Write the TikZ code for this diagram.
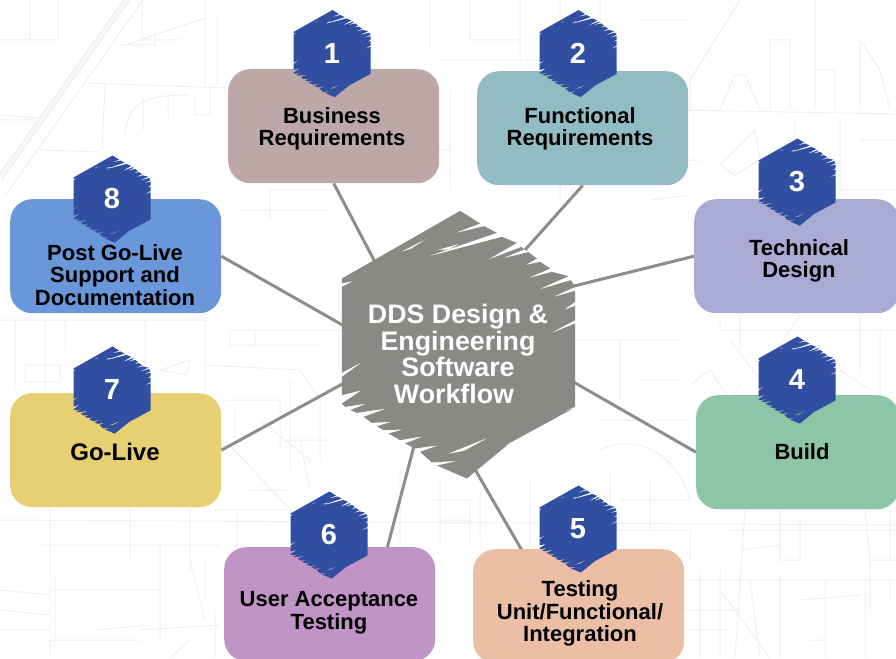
\documentclass[tikz,border=0pt]{standalone}
\usepackage{fontspec}
\setmainfont{Liberation Sans}
\usetikzlibrary{calc}
\pgfdeclarelayer{bg}
\pgfsetlayers{bg,main}
\definecolor{hexblue}{HTML}{304FA0}
\definecolor{hubgrey}{HTML}{888A86}
\definecolor{linegrey}{HTML}{8C8E8A}
\definecolor{mapline}{HTML}{EFEFEF}
\definecolor{c1}{HTML}{BDA8A8}
\definecolor{c2}{HTML}{92BCC4}
\definecolor{c3}{HTML}{A9ABD5}
\definecolor{c4}{HTML}{8DC5A6}
\definecolor{c5}{HTML}{EBBFA6}
\definecolor{c6}{HTML}{C194C6}
\definecolor{c7}{HTML}{E7D074}
\definecolor{c8}{HTML}{6A96DA}
\newcommand{\brushhex}{%
  (65,265) -- (420,62) -- (480,100) -- (400,130) -- (492,108) -- (530,128) -- (310,203) -- (545,140) -- (590,158) -- (500,210) -- (604,170) -- (612,178) -- (545,205) -- (625,186) -- (650,205) -- (615,225) -- (660,215) -- (690,235) -- (620,265) -- (695,245) -- (745,258) -- (650,300) -- (752,270) -- (765,290) -- (695,322) -- (765,302) -- (765,335) -- (730,360) -- (765,347) -- (765,390) -- (685,432) -- (765,400) -- (765,650) -- (720,668) -- (757,656) -- (575,755) -- (488,802) -- (565,762) -- (440,865) -- (350,826) -- (415,812) -- (335,817) -- (300,785) -- (355,765) -- (285,775) -- (255,760) -- (310,738) -- (240,750) -- (205,730) -- (250,718) -- (190,720) -- (170,708) -- (215,695) -- (155,698) -- (130,680) -- (200,655) -- (110,668) -- (90,660) -- (140,640) -- (75,650) -- (65,640) -- (125,600) -- (65,615) -- (65,560) -- (130,513) -- (65,548) -- (65,290) -- (100,272) -- (65,280) -- cycle
  (240,186) -- (330,140) -- (272,176) -- cycle
  (380,792) -- (510,740) -- (432,782) -- cycle
  (350,180) -- (420,160) -- (385,178) -- cycle}
\newcommand{\smallhex}[3]{% centre x, centre y, digit
  \begin{scope}[shift={(#1,#2)},x=0.11pt,y=-0.1085pt,shift={(-415,-463)}]
    \fill[hexblue,even odd rule] \brushhex;
  \end{scope}
  \node[num] (n#3) at (#1,#2) {#3};}
\tikzset{
  box/.style={rounded corners=22pt,minimum width=211pt,minimum height=114pt,inner sep=0pt,anchor=north west},
  lbl/.style={font=\fontsize{22}{22.5}\selectfont\bfseries,text=black,align=center,inner sep=0pt},
  num/.style={font=\fontsize{29}{29}\selectfont\bfseries,text=white,inner sep=0pt},
  hublbl/.style={font=\fontsize{26.8}{26.7}\selectfont\bfseries,text=white,align=center,inner sep=0pt},
  link/.style={draw=linegrey,line width=3pt},
  map/.style={draw=mapline,line width=1pt}
}
\begin{document}
\begin{tikzpicture}[x=1pt,y=-1pt]
\useasboundingbox (0,0) rectangle (896,658);
\clip (0,0) rectangle (896,658);
% boxes
\node[box,fill=c1] (b1) at (228,69) {};
\node[box,fill=c2] (b2) at (477,71) {};
\node[box,fill=c3,minimum width=205pt] (b3) at (694,199) {};
\node[box,fill=c4,minimum width=203pt] (b4) at (696,395) {};
\node[box,fill=c5] (b5) at (473,549) {};
\node[box,fill=c6] (b6) at (224,547) {};
\node[box,fill=c7] (b7) at (10,393) {};
\node[box,fill=c8] (b8) at (10,199) {};
% hub
\begin{scope}[shift={(458.5,344.5)},x=0.3333pt,y=-0.3333pt,shift={(-415,-463)}]
  \fill[hubgrey,even odd rule] \brushhex;
\end{scope}
\node[hublbl] (hub) at (458,354) {DDS Design \&\\Engineering\\Software\\Workflow\hspace*{8pt}};
% small hexagons
\smallhex{332}{53.5}{1}
\smallhex{578}{53.5}{2}
\smallhex{797}{182}{3}
\smallhex{797}{380}{4}
\smallhex{578}{529}{5}
\smallhex{329}{535}{6}
\smallhex{112}{390}{7}
\smallhex{112}{199}{8}
% labels
\node[lbl] (t1) at (332,129) {Business\\Requirements};
\node[lbl] (t2) at (580,129) {Functional\\Requirements};
\node[lbl] (t3) at (799,261) {Technical\\Design};
\node[lbl] (t4) at (802,452) {Build};
\node[lbl] (t5) at (580,613.5) {Testing\\Unit/Functional/\\Integration};
\node[lbl] (t6) at (329,613) {User Acceptance\\Testing};
\node[lbl,font=\fontsize{24}{24}\selectfont\bfseries] (t7) at (115,452) {Go-Live};
\node[lbl] (t8) at (115,275) {Post Go-Live\\Support and\\Documentation};
\begin{pgfonlayer}{bg}
\fill[white] (0,0) rectangle (896,658);
% faint street map
\draw[map,line width=6pt] (128,-2) -- (0,178);
\draw[white,line width=3.5pt,dash pattern=on 1.5pt off 1.5pt] (128,-2) -- (0,178);
\draw[map] (143,0) -- (5,196) (85,83) -- (230,88) (105,85) -- (102,150) (40,150) -- (100,152)
  (0,40) -- (58,40) (30,0) -- (30,40) (58,0) -- (58,40) (0,115) -- (40,118) (0,120)--(35,120)
  (142,0) -- (142,40) -- (180,40) (125,45) -- (205,18) (205,0) -- (205,85) (217,15) -- (217,85) (120,45) -- (155,45) -- (155,30)
  (125,135) .. controls (128,105) and (140,95) .. (188,95) (168,95) -- (168,118) (143,98) -- (143,130) (195,95) -- (195,115) -- (210,115) -- (210,88)
  (430,0) -- (430,50) (470,0) -- (470,40) -- (520,40) (520,0) -- (520,60) (440,60) -- (560,60) (560,0) -- (560,200) (600,0) -- (600,60) (640,20) -- (690,20)
  (360,80) -- (360,150) -- (450,150) (450,90) -- (450,190) (270,190) -- (340,190) (270,190) -- (270,220) (240,210) -- (330,210)
  (650,200) -- (690,195) (470,160) -- (700,160)
  (680,110) -- (896,114) (690,110) -- (690,80) -- (740,0) (770,110) -- (770,40) -- (790,40) (790,40) -- (790,110) (815,110) -- (815,0) (815,70) -- (835,70) (835,70) -- (835,110) (860,110) -- (860,40) -- (880,70) -- (890,110) (720,110) -- (735,75) -- (745,75) -- (760,110)
  (720,165) -- (755,130) -- (760,160) -- (735,175) -- (720,165) (795,120) -- (795,190) (840,120) -- (840,190) -- (896,190) (860,140) -- (896,140)
  (720,320) -- (720,330) -- (896,330) (740,315) -- (740,350) (800,315) -- (780,345) (860,315) -- (860,370)
  (690,385) -- (710,370) -- (730,400) -- (740,385) (730,340) -- (760,380) (840,370) -- (870,390) (880,330) -- (880,395)
  (570,340) -- (680,340) (620,340) -- (620,400) (600,420) -- (690,420) (640,380) -- (680,380) (600,450) .. controls (640,430) and (680,460) .. (690,500) (610,470) -- (610,530) -- (690,530) -- (690,560) (650,480) -- (650,530) (620,500) -- (690,500)
  (745,510) -- (735,658) (730,530) -- (896,530) (780,510) -- (780,560) -- (800,560) (800,520) -- (800,560) (780,545) -- (740,550) (690,580) -- (896,580) (700,570) -- (700,658) (750,580) -- (760,658) (720,570) -- (720,658) (680,610) -- (740,610) (690,630) -- (730,630) (720,590) -- (770,658) (780,575) -- (780,658) (825,580) -- (825,658) (865,590) -- (865,658) (800,600) -- (860,595) (810,640) -- (825,640) (865,510) -- (870,560) -- (896,560) (890,510) -- (890,560) (870,560) -- (870,610) (890,580) -- (890,600)
  (430,500) -- (470,500) -- (470,545) (440,520) -- (470,520) (250,490) -- (290,490) (215,510) -- (290,510) (237,510) -- (237,547) (400,470) -- (400,545) (440,480) -- (440,545) (480,490) -- (480,540) (530,480) -- (530,545)
  (0,320) -- (210,320) (15,320) -- (15,390) (45,320) -- (45,390) (65,320) -- (65,350) (145,320) -- (145,390) (205,320) -- (205,400) (230,330) -- (340,330) (230,330) -- (230,345) -- (320,345) (255,330) -- (255,345) (25,365) -- (25,382) -- (60,382) -- (60,365) -- cycle (160,370) -- (190,360) -- (187,375) -- cycle (205,365) -- (300,370) -- (320,400) -- (320,460) (225,400) -- (280,400) -- (280,450) (260,420) -- (310,460) (235,410) -- (235,440) (225,440) -- (300,520) (290,380) -- (290,470) (285,440) -- (330,440) (300,440) -- (310,490)
  (0,520) -- (896,525) (50,508) -- (50,658) (130,508) -- (130,560) (190,508) -- (190,570) (40,545) -- (220,545) (55,575) -- (55,640) (50,590) -- (160,590) (160,545) -- (160,640) (190,560) -- (205,620) (0,590) -- (50,595) (0,610) -- (50,615) (0,630) -- (50,630) (140,630) -- (220,625) (205,560) -- (205,600) (215,610) -- (215,658) (170,658) -- (190,640) (95,630) -- (150,625) (50,640) -- (140,640);
\draw[link] (b1.south) -- ($(hub)+(-83,-92)$);
\draw[link] (b2.south) -- ($(hub)+(67,-104)$);
\draw[link] (b3.west) -- ($(hub)+(92,-62)$);
\draw[link] (b4.west) -- ($(hub)+(112,26)$);
\draw[link] ($(b5.north)+(-57,1)$) -- ($(hub)+(15,112)$);
\draw[link] ($(b6.north)+(57.5,1)$) -- ($(hub)+(-44,92)$);
\draw[link] (b7.east) -- ($(hub)+(-90,16)$);
\draw[link] (b8.east) -- ($(hub)+(-112,-27)$);
\end{pgfonlayer}
\end{tikzpicture}
\end{document}
